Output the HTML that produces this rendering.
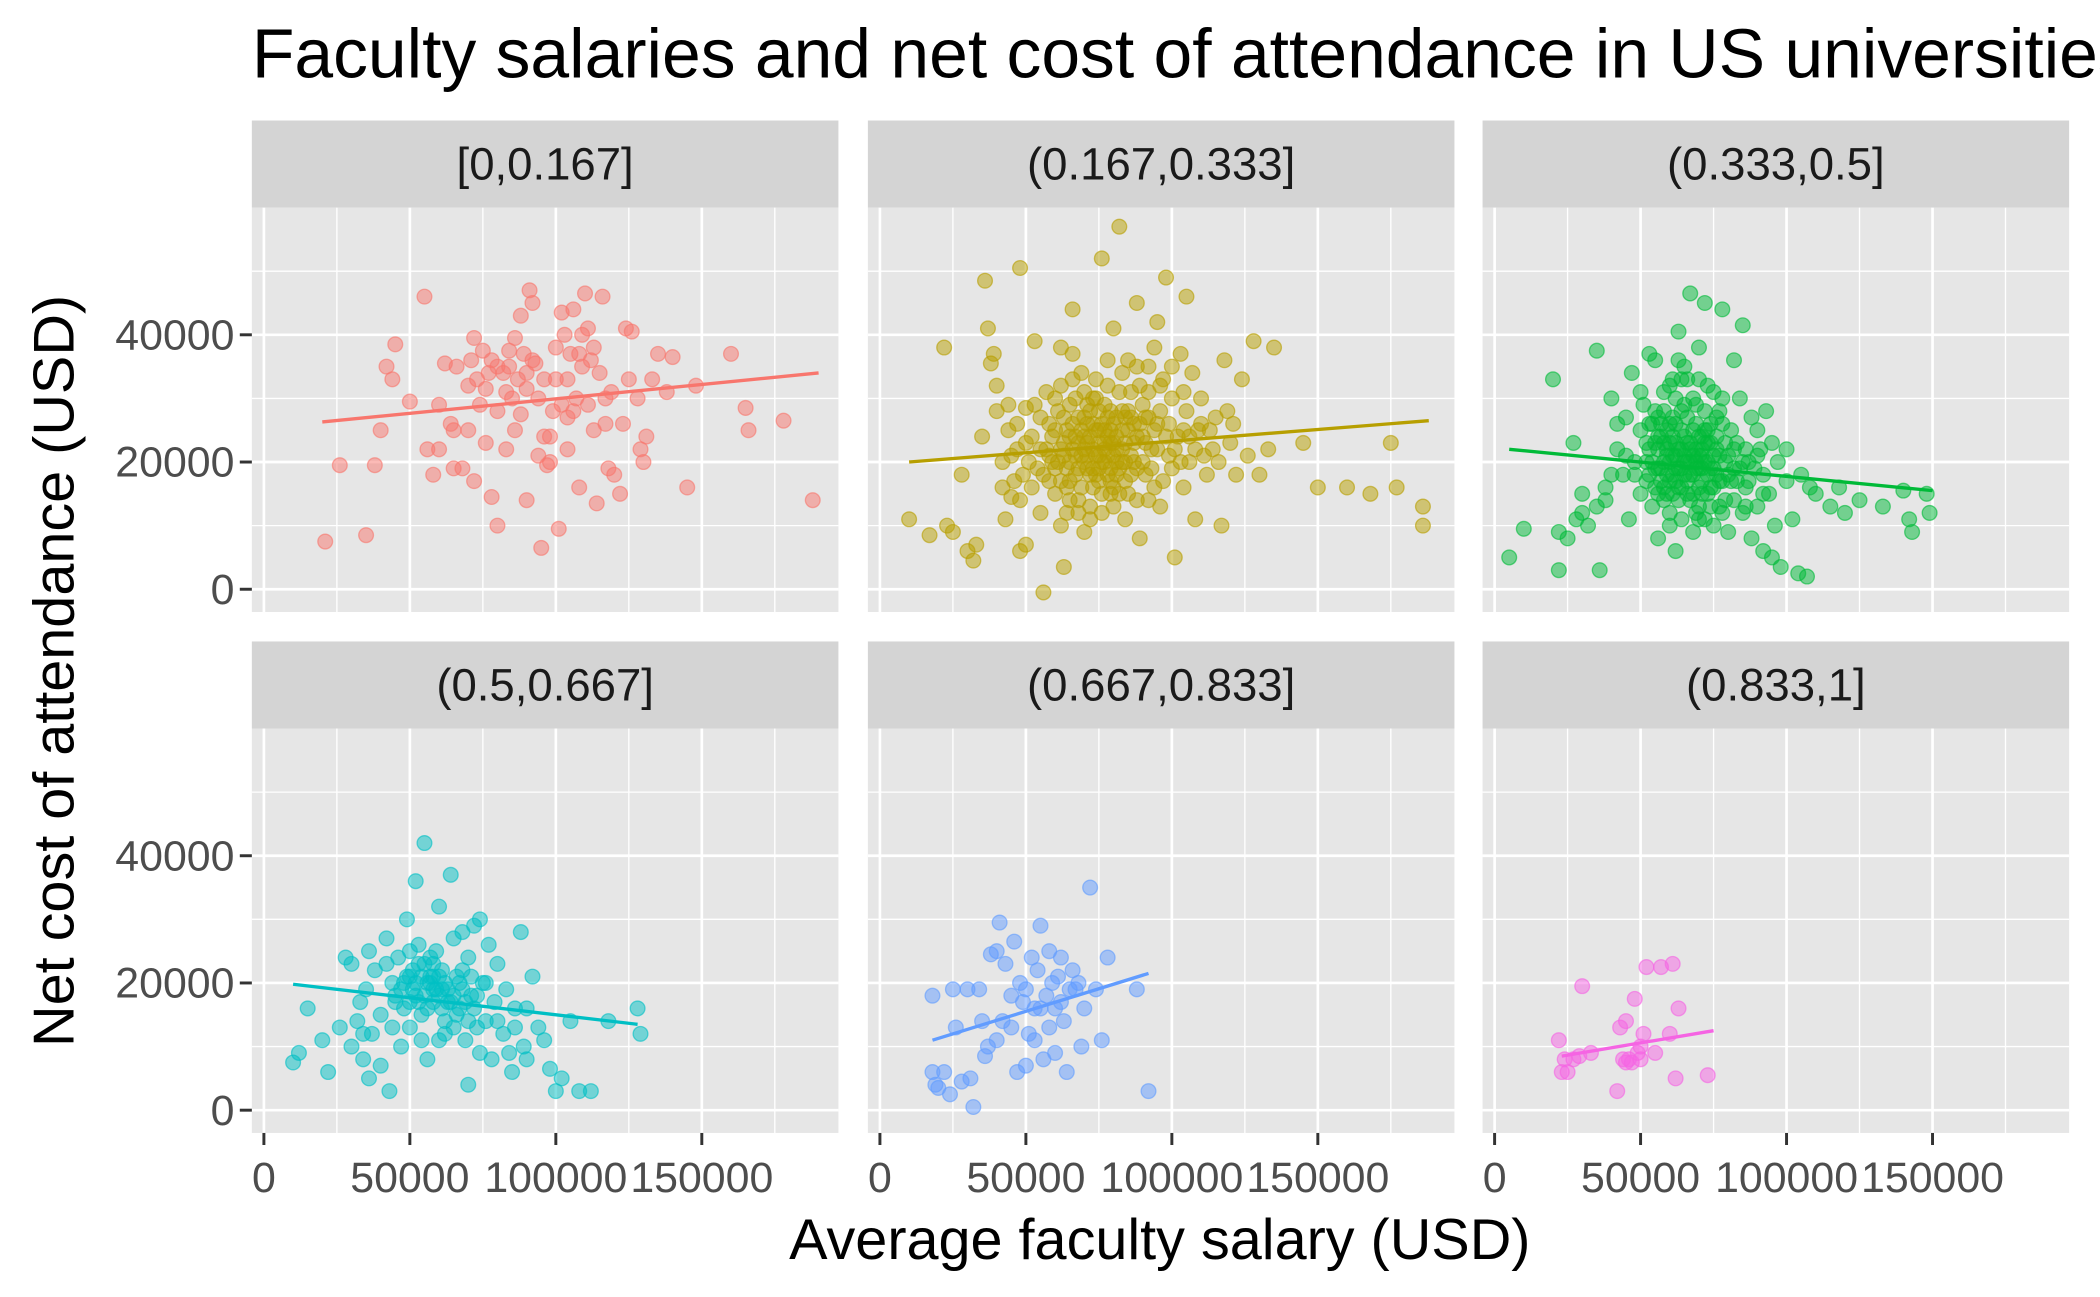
<!DOCTYPE html>
<html><head><meta charset="utf-8">
<style>
html,body{margin:0;padding:0;background:#fff;overflow:hidden;}
svg{display:block;font-family:"Liberation Sans",sans-serif;}
</style></head>
<body>
<svg id="chart" width="2100" height="1297" viewBox="0 0 1568 968.5" xmlns="http://www.w3.org/2000/svg">
<text x="188" y="58" font-size="52" fill="#000">Faculty salaries and net cost of attendance in US universities</text>
<text x="866" y="940" font-size="43" text-anchor="middle" fill="#000">Average faculty salary (USD)</text>
<text transform="translate(55,501) rotate(-90)" font-size="43" text-anchor="middle" fill="#000">Net cost of attendance (USD)</text>
<g id="panels"></g>
</svg>
<script>
const stripLabels = ["[0,0.167]","(0.167,0.333]","(0.333,0.5]","(0.5,0.667]","(0.667,0.833]","(0.833,1]"];
const colors = ["#F8766D","#B79F00","#00BA38","#00BFC4","#619CFF","#F564E3"];
const xTicks = [0,50000,100000,150000];
const xTickLabels = ["0","50000","100000","150000"];
const yTicks = [0,20000,40000];
const yTickLabels = ["0","20000","40000"];
// points in thousands USD: [salary, cost]
const p1 = [[21,7.5],[26,19.5],[35,8.5],[38,19.5],[40,25],[42,35],[45,38.5],[44,33],[50,29.5],[55,46],[56,22],[58,18],[60,22],[62,35.5],[64,26],[65,19],[68,19],[70,25],[72,39.5],[73,33],[74,29],[75,37.5],[76,31.5],[78,36],[80,35],[80,28],[82,34],[84,37.5],[83,22],[85,30],[86,39.5],[87,33],[88,27.5],[89,37],[90,14],[90,31.5],[91,47],[92,45],[93,35.5],[94,21],[95,6.5],[96,33],[97,19.5],[98,24],[99,28],[100,38],[101,9.5],[102,43.5],[103,40],[104,33],[104,22],[105,37],[106,44],[107,30],[108,16],[109,40],[110,46.5],[111,29],[112,36],[113,25],[114,13.5],[115,34],[116,46],[117,30],[118,19],[119,31],[120,18],[122,15],[123,26],[125,33],[126,40.5],[128,30],[129,22],[130,20],[131,24],[133,33],[135,37],[138,31],[140,36.5],[145,16],[148,32],[160,37],[165,28.5],[166,25],[178,26.5],[188,14],[80,10],[96,24],[86,25],[92,36],[104,27],[72,17],[76,23],[66,35],[88,43],[113,38],[124,41],[117,26],[106,28],[70,32],[78,14.5],[60,29],[98,20],[109,35],[65,25],[84,35],[90,34],[94,30],[100,33],[102,29],[108,37],[111,41],[83,31],[77,34],[71,36]];
const p2 = [[10,11],[17,8.5],[22,38],[23,10],[25,9],[28,18],[30,6],[32,4.5],[33,7],[35,24],[36,48.5],[37,41],[38,35.5],[39,37],[40,32],[42,20],[43,11],[45,14.5],[47,26],[48,6],[48,50.5],[50,28.5],[50,7],[52,16],[53,39],[55,12],[56,-0.5],[57,31],[58,21],[60,25],[62,38],[63,3.5],[64,16],[65,29],[66,44],[67,18],[68,23],[69,34],[70,27],[71,21],[72,13],[73,30],[74,25],[75,19],[76,52],[77,22],[78,36],[79,17],[80,26],[80,41],[81,24],[82,57],[83,28],[84,20],[85,15],[86,31],[87,23],[88,45],[89,8],[90,29],[91,18],[92,35],[93,22],[94,38],[95,26],[96,13],[97,33],[98,49],[99,21],[100,30],[101,5],[102,24],[103,37],[104,16],[105,28],[106,20],[107,34],[108,11],[109,25],[110,30],[112,18],[114,22],[115,27],[117,10],[118,36],[120,23],[122,18],[124,33],[126,21],[128,39],[130,18],[133,22],[135,38],[145,23],[150,16],[160,16],[168,15],[175,23],[177,16],[186,13],[186,10],[105,46],[95,42],[85,36],[60,15],[55,27],[50,23],[45,21],[65,20],[70,24],[72,18],[75,28],[78,21],[80,16],[82,31],[85,25],[88,19],[60,30],[62,22],[66,26],[68,12],[74,33],[76,15],[78,27],[84,23],[90,24],[92,14],[64,19],[58,17],[70,20],[73,22],[77,25],[79,23],[81,20],[86,27],[89,32],[97,17],[100,19],[54,19],[52,24],[48,14],[44,29],[66,37],[70,9],[62,10],[40,28],[63,23],[67,21],[69,25],[71,19],[73,26],[75,23],[77,20],[79,28],[81,22],[83,25],[65,24],[68,27],[72,24],[74,21],[76,26],[78,18],[80,23],[82,19],[84,27],[86,21],[61,20],[59,24],[57,22],[63,27],[71,29],[75,17],[79,15],[87,26],[91,27],[94,25],[56,18],[58,26],[59,20],[61,28],[62,17],[64,25],[65,14],[66,22],[67,30],[68,19],[69,16],[70,22],[71,26],[72,28],[73,16],[74,18],[75,25],[76,20],[77,29],[78,24],[79,19],[80,21],[81,27],[82,15],[83,22],[84,17],[85,28],[86,18],[87,20],[88,24],[89,26],[90,20],[91,23],[92,27],[93,19],[95,22],[96,28],[98,24],[99,26],[101,22],[103,20],[104,25],[106,24],[108,22],[110,26],[111,21],[113,25],[116,20],[119,28],[121,26],[55,22],[53,29],[51,20],[49,18],[47,22],[46,17],[44,25],[42,16],[62,32],[66,33],[70,31],[74,30],[78,32],[83,34],[88,35],[92,31],[96,32],[100,35],[104,31],[64,12],[68,14],[72,11],[76,12],[80,13],[84,11],[88,14],[94,16],[60,19],[63,21],[65,17],[67,24],[69,21],[71,23],[73,19],[75,21],[77,23],[79,25],[81,18],[83,20]];
const p3 = [[5,5],[10,9.5],[20,33],[22,9],[22,3],[25,8],[27,23],[30,12],[32,10],[35,37.5],[36,3],[38,14],[40,30],[42,22],[44,18],[45,27],[46,11],[47,34],[48,20],[50,25],[50,15],[51,29],[52,17],[53,22],[54,13],[55,36],[56,19],[56,27],[57,24],[58,16],[59,21],[60,32],[60,10],[61,18],[62,26],[63,40.5],[63,14],[64,22],[65,29],[65,35],[66,17],[67,20],[67,46.5],[68,25],[69,12],[70,21],[70,38],[71,19],[72,45],[72,28],[73,15],[74,23],[75,31],[76,18],[77,13],[78,44],[78,26],[79,20],[80,9],[81,17],[82,36],[83,23],[84,30],[85,41.5],[86,16],[87,20],[88,27],[90,13],[91,22],[92,18],[93,28],[94,15],[95,5],[97,20],[98,3.5],[100,17],[102,11],[104,2.5],[107,2],[108,16],[110,15],[115,13],[120,12],[140,15.5],[142,11],[143,9],[148,15],[149,12],[45,21],[48,18],[52,20],[54,26],[55,16],[57,19],[58,23],[60,20],[61,24],[62,17],[64,19],[65,21],[66,23],[68,18],[69,22],[70,16],[71,24],[73,20],[74,19],[76,22],[77,17],[80,21],[82,19],[58,28],[62,30],[66,33],[50,31],[42,26],[40,18],[38,16],[35,13],[30,15],[28,11],[75,10],[85,12],[88,8],[92,6],[96,10],[56,8],[62,6],[68,9],[72,11],[53,37],[63,36],[70,33],[78,30],[90,25],[95,23],[100,22],[105,18],[118,16],[125,14],[133,13],[54,20],[56,22],[58,20],[59,18],[60,23],[61,21],[62,19],[63,22],[64,25],[65,18],[66,20],[67,23],[68,21],[69,19],[70,24],[71,22],[72,20],[73,18],[74,26],[75,21],[76,24],[57,26],[59,15],[63,16],[67,14],[71,15],[75,16],[79,23],[81,25],[84,19],[86,22],[55,23],[53,18],[60,26],[64,28],[68,30],[72,25],[77,28],[52,23],[53,26],[55,19],[55,28],[56,24],[57,17],[58,14],[59,25],[60,17],[61,27],[62,23],[63,19],[64,16],[65,24],[66,27],[67,18],[68,15],[69,26],[70,19],[71,17],[72,23],[73,25],[74,16],[75,19],[76,27],[77,21],[78,17],[79,14],[80,18],[82,22],[83,17],[85,20],[87,17],[89,19],[90,21],[92,15],[58,31],[61,33],[64,33],[69,29],[73,32],[60,12],[64,11],[70,13],[74,13],[78,12],[82,14],[86,13],[56,15],[61,15],[66,15],[70,11],[59,22],[62,21],[65,20],[67,22],[69,20],[71,21],[73,23]];
const p4 = [[10,7.5],[12,9],[15,16],[20,11],[22,6],[28,24],[30,23],[30,10],[32,14],[33,17],[34,8],[35,19],[36,5],[37,12],[38,22],[40,15],[40,7],[42,27],[43,3],[44,20],[45,18],[46,24],[47,10],[48,16],[49,30],[50,21],[50,13],[51,19],[52,36],[53,26],[54,15],[55,23],[55,42],[56,8],[57,20],[58,17],[59,25],[60,11],[60,32],[61,22],[62,14],[63,19],[64,37],[65,27],[65,13],[66,21],[67,16],[68,28],[69,11],[70,24],[70,4],[71,18],[72,29],[73,13],[74,30],[75,20],[76,14],[77,26],[78,8],[79,17],[80,23],[82,12],[83,19],[85,6],[86,13],[88,28],[89,10],[90,16],[92,21],[94,13],[96,11],[98,6.5],[100,3],[102,5],[105,14],[108,3],[112,3],[118,14],[128,16],[129,12],[45,17],[48,20],[52,18],[54,21],[56,16],[58,19],[60,18],[62,20],[64,17],[66,15],[68,19],[70,14],[72,16],[44,13],[36,25],[42,23],[74,9],[80,14],[84,9],[62,12],[54,11],[50,25],[58,23],[68,22],[76,20],[86,16],[90,8],[34,12],[26,13],[47,19],[51,22],[53,17],[57,21],[59,19],[61,16],[49,21],[50,17],[52,20],[53,23],[55,18],[56,20],[57,24],[58,21],[60,21],[61,19],[63,17],[65,18],[67,20],[69,17],[71,21],[73,18]];
const p5 = [[18,18],[18,6],[19,4],[20,3.5],[22,6],[24,2.5],[25,19],[26,13],[28,4.5],[30,19],[31,5],[32,0.5],[34,19],[36,8.5],[37,10],[38,24.5],[40,25],[40,11],[41,29.5],[42,14],[43,23],[45,13],[46,26.5],[47,6],[48,20],[49,17],[50,7],[50,19],[51,12],[52,24],[53,11],[54,22],[55,16],[55,29],[56,8],[57,18],[58,13],[58,25],[59,20],[60,9],[61,21],[62,17],[63,14],[64,6],[65,19],[66,22],[67,19],[68,20],[69,10],[70,16],[72,35],[74,19],[76,11],[78,24],[88,19],[92,3],[45,18],[53,16],[60,16],[35,14],[62,24]];
const p6 = [[22,11],[23,6],[24,8],[25,6],[27,8],[29,8.5],[30,19.5],[33,9],[42,3],[43,13],[44,8],[45,14],[46,8],[47,7.5],[48,17.5],[49,9],[50,10],[50,8],[51,12],[52,22.5],[55,9],[57,22.5],[60,12],[61,23],[62,5],[63,16],[73,5.5],[45,7.5]];
const pointSets = [p1,p2,p3,p4,p5,p6];
// regression line endpoints in thousands: [x1,y1,x2,y2]
const fitLines = [[20,26.3,190,34],[10,20,188,26.5],[5,22,150,15.5],[10,19.8,128,13.5],[18,11,92,21.5],[23,8.5,75,12.5]];

const NS="http://www.w3.org/2000/svg";
const root=document.getElementById('panels');
const colX=[188,648,1107], panelW=438, rowTop=[90,479], stripH=65, panelH=302;
const xMin=-4128, xMax=196789, yMin=-3579, yMax=60000;
function mk(tag,attrs,parent){const e=document.createElementNS(NS,tag);for(const k in attrs)e.setAttribute(k,attrs[k]);parent.appendChild(e);return e;}
for(let i=0;i<6;i++){
  const c=i%3,r=Math.floor(i/3);
  const x0=colX[c], sTop=rowTop[r], pTop=sTop+stripH;
  const sx=v=>x0+(v-xMin)/(xMax-xMin)*panelW;
  const sy=v=>pTop+panelH-(v-yMin)/(yMax-yMin)*panelH;
  const g=mk('g',{},root);
  
  
  const strip=mk('rect',{x:x0,y:sTop,width:panelW,height:stripH,fill:'#D4D4D4'},g);
  
  
  const st=mk('text',{x:x0+panelW/2,y:sTop+44,'font-size':34,'text-anchor':'middle',fill:'#1A1A1A'},g);
  st.textContent=stripLabels[i];
  
  
  const bg=mk('rect',{x:x0,y:pTop,width:panelW,height:panelH,fill:'#E6E6E6'},g);
  
  
  for(let v=25000;v<xMax;v+=50000){if(v>xMin)mk('line',{x1:sx(v),x2:sx(v),y1:pTop,y2:pTop+panelH,stroke:'#fff','stroke-width':1},g);}
  for(let v=10000;v<yMax;v+=20000){mk('line',{x1:x0,x2:x0+panelW,y1:sy(v),y2:sy(v),stroke:'#fff','stroke-width':1},g);}
  xTicks.forEach(v=>mk('line',{x1:sx(v),x2:sx(v),y1:pTop,y2:pTop+panelH,stroke:'#fff','stroke-width':2},g));
  yTicks.forEach(v=>mk('line',{x1:x0,x2:x0+panelW,y1:sy(v),y2:sy(v),stroke:'#fff','stroke-width':2},g));
  pointSets[i].forEach(p=>{
    const cpt=mk('circle',{cx:sx(p[0]*1000),cy:sy(p[1]*1000),r:5.5,fill:colors[i],'fill-opacity':0.5,stroke:colors[i],'stroke-opacity':0.6,'stroke-width':1},g);
    
    
  });
  const f=fitLines[i];
  const fl=mk('line',{x1:sx(f[0]*1000),y1:sy(f[1]*1000),x2:sx(f[2]*1000),y2:sy(f[3]*1000),stroke:colors[i],'stroke-width':2.5},g);
  
  
  if(c===0){
    yTicks.forEach((v,k)=>{
      mk('line',{x1:x0-9,x2:x0,y1:sy(v),y2:sy(v),stroke:'#333','stroke-width':2.2},g);
      const t=mk('text',{x:x0-13,y:sy(v)+11,'font-size':32,'text-anchor':'end',fill:'#4D4D4D'},g);
      t.textContent=yTickLabels[k];
      
      
    });
  }
  if(r===1){
    xTicks.forEach((v,k)=>{
      mk('line',{x1:sx(v),x2:sx(v),y1:pTop+panelH,y2:pTop+panelH+9,stroke:'#333','stroke-width':2.2},g);
      const t=mk('text',{x:sx(v),y:pTop+panelH+44,'font-size':32,'text-anchor':'middle',fill:'#4D4D4D'},g);
      t.textContent=xTickLabels[k];
      
      
    });
  }
}
</script>
</body></html>
